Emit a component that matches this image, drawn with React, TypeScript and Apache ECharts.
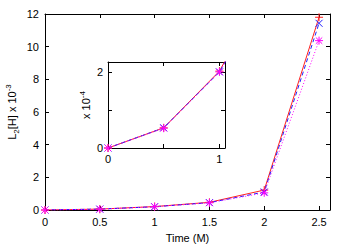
import React, { useEffect, useRef } from 'react';
import * as echarts from 'echarts';

const times = [0, 0.5, 1, 1.5, 2, 2.5];
const redValues = [0, 0.055, 0.21, 0.47, 1.22, 11.8];
const blueValues = [0, 0.055, 0.2, 0.45, 1.1, 11.43];
const magentaValues = [0, 0.05, 0.2, 0.44, 1.05, 10.37];

const insetTimes = [0, 0.5, 1, 1.5];
const insetRed = [0, 0.53, 2.02, 4.7];
const insetBlue = [0, 0.53, 2.0, 4.5];
const insetMagenta = [0, 0.52, 2.0, 4.4];

const FONT = 'Liberation Sans, Arial, Helvetica, sans-serif';

const PLUS = 'path://M0,-1L0,1M-1,0L1,0';
const CROSS = 'path://M-1,-1L1,1M-1,1L1,-1';
const STAR = 'path://M0,-1L0,1M-1,0L1,0M-0.8,-0.8L0.8,0.8M-0.8,0.8L0.8,-0.8';

const pairs = (xs: number[], ys: number[]) => xs.map((x, i) => [x, ys[i]]);

function mkSeries(name: string, xs: number[], ys: number[], color: string, symbol: string, lineType: any, xIdx: number, yIdx: number, size: number) {
  return {
    name,
    type: 'line',
    xAxisIndex: xIdx,
    yAxisIndex: yIdx,
    data: pairs(xs, ys),
    symbol,
    symbolSize: size,
    showSymbol: true,
    clip: true,
    lineStyle: { color, width: 1, type: lineType },
    itemStyle: { color, borderColor: color, borderWidth: 1 },
    emphasis: { disabled: true },
  };
}

const baseLabel = { color: '#000', fontFamily: FONT, fontSize: 11 };

export default function App() {
  const ref = useRef<HTMLDivElement>(null);
  useEffect(() => {
    if (!ref.current) return;
    const chart = echarts.init(ref.current, undefined, { renderer: 'svg' });
    const axisLine = { show: true, onZero: false, lineStyle: { color: '#000', width: 1 } };
    const tickIn = { show: true, inside: true, length: 4, lineStyle: { color: '#000', width: 1 } };
    chart.setOption({
      animation: false,
      backgroundColor: '#fff',
      grid: [
        { left: 45, top: 14, width: 285, height: 196, show: false, outerBoundsMode: 'none', containLabel: false },
        { left: 108, top: 62, width: 117, height: 86, show: true, backgroundColor: '#fff', borderWidth: 0, outerBoundsMode: 'none', containLabel: false },
      ],
      xAxis: [
        {
          type: 'value', gridIndex: 0, position: 'bottom', min: 0, max: 2.6, interval: 0.5,
          axisLine, axisTick: tickIn, splitLine: { show: false },
          axisLabel: { ...baseLabel, margin: 6, showMaxLabel: false },
          name: 'Time (M)', nameLocation: 'middle', nameGap: 22, nameMoveOverlap: false,
          nameTextStyle: { ...baseLabel },
        },
        {
          type: 'value', gridIndex: 0, position: 'top', min: 0, max: 2.6, interval: 0.5,
          axisLine, axisTick: tickIn, splitLine: { show: false }, axisLabel: { show: false },
        },
        {
          type: 'value', gridIndex: 1, position: 'bottom', min: 0, max: 1.05, interval: 0.5,
          axisLine, axisTick: tickIn, splitLine: { show: false },
          axisLabel: { ...baseLabel, margin: 5, formatter: (v: number) => (v === 0 || v === 1 ? String(v) : '') },
        },
        {
          type: 'value', gridIndex: 1, position: 'top', min: 0, max: 1.05, interval: 0.5,
          axisLine, axisTick: tickIn, splitLine: { show: false }, axisLabel: { show: false },
        },
      ],
      yAxis: [
        {
          type: 'value', gridIndex: 0, position: 'left', min: 0, max: 12, interval: 2,
          axisLine, axisTick: tickIn, splitLine: { show: false },
          axisLabel: { ...baseLabel, margin: 6 },
          name: '{a|L}{s|2}{a|[H] x 10}{p|-3}', nameLocation: 'middle', nameGap: 25, nameRotate: 90,
          nameMoveOverlap: false,
          nameTextStyle: {
            ...baseLabel,
            rich: {
              a: { fontFamily: FONT, fontSize: 11, color: '#000', lineHeight: 16 },
              s: { fontFamily: FONT, fontSize: 8, color: '#000', lineHeight: 8, verticalAlign: 'bottom' },
              p: { fontFamily: FONT, fontSize: 8, color: '#000', lineHeight: 8, verticalAlign: 'top' },
            },
          },
        },
        {
          type: 'value', gridIndex: 0, position: 'right', min: 0, max: 12, interval: 2,
          axisLine, axisTick: tickIn, splitLine: { show: false }, axisLabel: { show: false },
        },
        {
          type: 'value', gridIndex: 1, position: 'left', min: 0, max: 2.26, interval: 1,
          axisLine, axisTick: tickIn, splitLine: { show: false },
          axisLabel: { ...baseLabel, margin: 5, formatter: (v: number) => (v === 0 || v === 2 ? String(v) : '') },
          name: '{a|x 10}{p|-4}', nameLocation: 'middle', nameGap: 14, nameRotate: 90,
          nameMoveOverlap: false,
          nameTextStyle: {
            ...baseLabel,
            rich: {
              a: { fontFamily: FONT, fontSize: 11, color: '#000', lineHeight: 16 },
              p: { fontFamily: FONT, fontSize: 8, color: '#000', lineHeight: 8, verticalAlign: 'top' },
            },
          },
        },
        {
          type: 'value', gridIndex: 1, position: 'right', min: 0, max: 2.26, interval: 1,
          axisLine, axisTick: tickIn, splitLine: { show: false }, axisLabel: { show: false },
        },
      ],
      series: [
        mkSeries('red', times, redValues, '#ff2020', PLUS, 'solid', 0, 0, 8),
        mkSeries('blue', times, blueValues, '#2020ff', CROSS, [4, 3], 0, 0, 7),
        mkSeries('magenta', times, magentaValues, '#ff00ff', STAR, [1, 2], 0, 0, 8),
        mkSeries('red', insetTimes, insetRed, '#ff2020', PLUS, 'solid', 2, 2, 8),
        mkSeries('blue', insetTimes, insetBlue, '#2020ff', CROSS, [4, 3], 2, 2, 7),
        mkSeries('magenta', insetTimes, insetMagenta, '#ff00ff', STAR, [1, 2], 2, 2, 8),
      ],
    });
    return () => chart.dispose();
  }, []);
  return <div ref={ref} style={{ position: 'fixed', left: 0, top: 0, width: 350, height: 245 }} />;
}
